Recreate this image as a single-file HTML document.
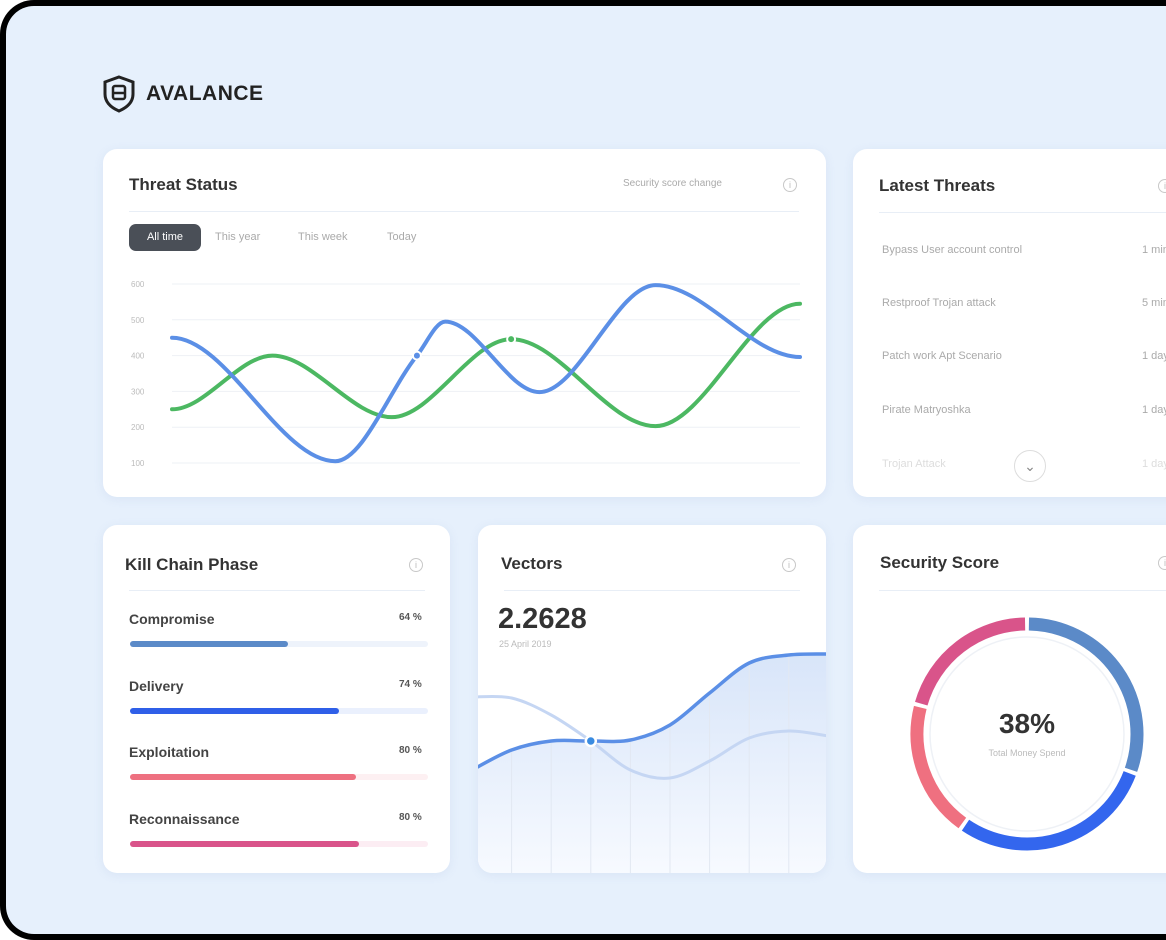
<!DOCTYPE html>
<html><head><meta charset="utf-8"><style>
*{box-sizing:border-box;margin:0;padding:0}
body{width:1166px;height:940px;overflow:hidden;background:#fff;font-family:"Liberation Sans",sans-serif;position:relative}
.frame{position:absolute;left:0;top:0;width:1200px;height:940px;background:#000;border-radius:34px}
.screen{position:absolute;left:6px;top:6px;width:1200px;height:928px;background:#e6f0fc;border-radius:28px}
.card{position:absolute;background:#fff;border-radius:14px;box-shadow:0 2px 10px rgba(120,150,200,.12)}
.title{position:absolute;font-weight:bold;font-size:17px;color:#333;}
.hr{position:absolute;height:1px;background:#e8eef6}
.info{position:absolute;width:14px;height:14px;border:1px solid #c8c8c8;border-radius:50%;font-size:9px;color:#bbb;text-align:center;line-height:12px}
.muted{position:absolute;font-size:11px;color:#aaa}
.lbl{position:absolute;font-size:14px;font-weight:bold;color:#444}
.pct{position:absolute;font-size:10px;color:#555;font-weight:bold}
.track{position:absolute;height:6px;border-radius:3px}
.fill{position:absolute;left:0;top:0;height:6px;border-radius:3px}
</style></head><body>
<div class="frame"></div>
<div class="screen"></div>

<div style="position:absolute;left:102px;top:76px;height:36px;display:flex;align-items:center">
<svg width="34" height="38" viewBox="0 0 34 38"><path d="M17 2 L31 7 L31 19 C31 28 24 33 17 36 C10 33 3 28 3 19 L3 7 Z" fill="none" stroke="#222" stroke-width="3"/><rect x="11" y="11" width="12" height="13" rx="2" fill="none" stroke="#222" stroke-width="2.5"/><line x1="11" y1="18" x2="23" y2="18" stroke="#222" stroke-width="2.5"/></svg>
<span style="font-size:21px;font-weight:bold;color:#222;margin-left:10px;letter-spacing:.5px">AVALANCE</span>
</div>

<!-- Threat Status -->
<div class="card" style="left:103px;top:149px;width:723px;height:348px">
<div class="title" style="left:26px;top:26px">Threat Status</div>
<div class="muted" style="left:520px;top:29px;font-size:10px">Security score change</div>
<div class="info" style="left:680px;top:29px">i</div>
<div class="hr" style="left:26px;top:62px;width:670px"></div>
<div style="position:absolute;left:26px;top:75px;width:72px;height:27px;background:#4a4f57;border-radius:7px;color:#fff;font-size:11px;text-align:center;line-height:27px">All time</div>
<div class="muted" style="left:112px;top:82px">This year</div>
<div class="muted" style="left:195px;top:82px">This week</div>
<div class="muted" style="left:284px;top:82px">Today</div>
</div>
<svg id="threat" width="1166" height="940" style="position:absolute;left:0;top:0"></svg>

<!-- Latest Threats -->
<div class="card" style="left:853px;top:149px;width:340px;height:348px">
<div class="title" style="left:26px;top:27px">Latest Threats</div>
<div class="info" style="left:305px;top:30px">i</div>
<div class="hr" style="left:26px;top:63px;width:320px"></div>
<div class="muted" style="left:29px;top:95px">Bypass User account control</div>
<div class="muted" style="left:289px;top:95px">1 min</div>
<div class="muted" style="left:29px;top:148px">Restproof Trojan attack</div>
<div class="muted" style="left:289px;top:148px">5 min</div>
<div class="muted" style="left:29px;top:201px">Patch work Apt Scenario</div>
<div class="muted" style="left:289px;top:201px">1 day</div>
<div class="muted" style="left:29px;top:255px">Pirate Matryoshka</div>
<div class="muted" style="left:289px;top:255px">1 day</div>
<div class="muted" style="left:29px;top:309px;color:#ddd">Trojan Attack</div>
<div class="muted" style="left:289px;top:309px;color:#ddd">1 day</div>
<div style="position:absolute;left:161px;top:301px;width:32px;height:32px;border:1px solid #ddd;border-radius:50%;background:#fff;text-align:center;line-height:30px;color:#888;font-size:14px">&#8964;</div>
</div>

<!-- Kill Chain -->
<div class="card" style="left:103px;top:525px;width:347px;height:348px">
<div class="title" style="left:22px;top:30px">Kill Chain Phase</div>
<div class="info" style="left:306px;top:33px">i</div>
<div class="hr" style="left:26px;top:65px;width:296px"></div>
<div id="bars"></div>
</div>

<!-- Vectors -->
<div class="card" style="left:478px;top:525px;width:348px;height:348px;overflow:hidden">
<div class="title" style="left:23px;top:29px">Vectors</div>
<div class="info" style="left:304px;top:33px">i</div>
<div class="hr" style="left:26px;top:65px;width:296px"></div>
<div style="position:absolute;left:20px;top:78px;font-size:29px;font-weight:bold;color:#333">2.2628</div>
<div class="muted" style="left:21px;top:114px;font-size:9px;color:#bbb">25 April 2019</div>
<svg id="vec" width="348" height="348" style="position:absolute;left:0;top:0"></svg>
</div>

<!-- Security Score -->
<div class="card" style="left:853px;top:525px;width:340px;height:348px">
<div class="title" style="left:27px;top:28px">Security Score</div>
<div class="info" style="left:305px;top:31px">i</div>
<div class="hr" style="left:26px;top:65px;width:320px"></div>
<div style="position:absolute;left:124px;top:183px;width:100px;text-align:center;font-size:28px;font-weight:bold;color:#333">38%</div>
<div style="position:absolute;left:104px;top:223px;width:140px;text-align:center;font-size:9px;color:#bbb">Total Money Spend</div>
</div>
<svg id="donut" width="1166" height="940" style="position:absolute;left:0;top:0;pointer-events:none"></svg>

<script>
// Threat status data
const threatTicks = [100,200,300,400,500,600];
const blueX = [0,26,39,43.5,58.5,77,100];
const blueY = [450,105,400,495,298,597,396];
const greenX = [0,16,35,54,77,100];
const greenY = [250,400,228,446,203,545];
// Kill chain data
const phases = ["Compromise","Delivery","Exploitation","Reconnaissance"];
const phaseLabels = ["64 %","74 %","80 %","80 %"];
const phaseFill = [53,70,76,77];
// Vectors data
const vecDark = [103,123,132,132,133,148,180,210,218,219];
const vecLight = [176,175,158,132,103,95,112,135,142,137];
// Donut data (degrees of each segment)
const donutSegs = [110,105,70,75];

const NS="http://www.w3.org/2000/svg";
function mk(t,a,p){const e=document.createElementNS(NS,t);for(const k in a)e.setAttribute(k,a[k]);p.appendChild(e);return e;}
function monotone(pts){
  const n=pts.length,d=[],m=[];
  for(let i=0;i<n-1;i++)d.push((pts[i+1][1]-pts[i][1])/(pts[i+1][0]-pts[i][0]));
  for(let i=0;i<n;i++){
    if(i==0)m.push(0);else if(i==n-1)m.push(0);
    else m.push(d[i-1]*d[i]<=0?0:(d[i-1]+d[i])/2);
  }
  let s=`M${pts[0][0]},${pts[0][1]}`;
  for(let i=0;i<n-1;i++){const h=pts[i+1][0]-pts[i][0];
    s+=` C${pts[i][0]+h/3},${pts[i][1]+m[i]*h/3} ${pts[i+1][0]-h/3},${pts[i+1][1]-m[i+1]*h/3} ${pts[i+1][0]},${pts[i+1][1]}`;}
  return s;
}
// Threat chart
(function(){
  const svg=document.getElementById('threat');
  const x=v=>172+v*6.28, y=v=>463-(v-100)*0.358;
  threatTicks.forEach(t=>{
    const l=mk('line',{x1:172,x2:800,y1:y(t),y2:y(t),stroke:'#eef1f5','stroke-width':1},svg);
    
    const tx=mk('text',{x:131,y:y(t)+3,'font-size':8,fill:'#bbb','font-family':'Liberation Sans'},svg);
    tx.textContent=t;
  });
  const gp=mk('path',{d:monotone(greenX.map((v,i)=>[x(v),y(greenY[i])])),fill:'none',stroke:'#4cb862','stroke-width':4,'stroke-linecap':'round'},svg);
  
  const bp=mk('path',{d:monotone(blueX.map((v,i)=>[x(v),y(blueY[i])])),fill:'none',stroke:'#5b8fe6','stroke-width':4,'stroke-linecap':'round'},svg);
  
  const c1=mk('circle',{cx:x(blueX[2]),cy:y(blueY[2]),r:4,fill:'#5b8fe6',stroke:'#fff','stroke-width':2},svg);
  
  const c2=mk('circle',{cx:x(greenX[3]),cy:y(greenY[3]),r:4,fill:'#4cb862',stroke:'#fff','stroke-width':2},svg);
  
})();
// Bars
(function(){
  const box=document.getElementById('bars');
  const cols=["#5b8ac8","#2f5fe8","#ee7080","#d9548a"],tr=["#eef3fb","#eaf0fd","#fdf0f2","#fcedf3"];
  phases.forEach((p,i)=>{
    const top=86+i*66.5;
    const l=document.createElement('div');l.className='lbl';l.style.left='26px';l.style.top=top+'px';l.textContent=p;
    box.appendChild(l);
    const pc=document.createElement('div');pc.className='pct';pc.style.left='296px';pc.style.top=(top+1)+'px';pc.textContent=phaseLabels[i];
    box.appendChild(pc);
    const t=document.createElement('div');t.className='track';t.style.left='27px';t.style.top=(top+30)+'px';t.style.width='298px';t.style.background=tr[i];
    box.appendChild(t);
    const f=document.createElement('div');f.className='fill';f.style.width=(298*phaseFill[i]/100)+'px';f.style.background=cols[i];
    t.appendChild(f);
  });
})();
// Vectors
(function(){
  const svg=document.getElementById('vec');
  const x=i=>-6+i*39.6, y=v=>348-v;
  const defs=mk('defs',{},svg);
  const g=mk('linearGradient',{id:'vg',x1:0,y1:0,x2:0,y2:1},defs);
  mk('stop',{offset:0,'stop-color':'#d8e5f9'},g);mk('stop',{offset:1,'stop-color':'#f7faff'},g);
  const dp=vecDark.map((v,i)=>[x(i),y(v)]);
  const d=monotoneCR(dp);
  const area=mk('path',{d:d+` L${x(vecDark.length-1)},348 L${x(0)},348 Z`,fill:'url(#vg)'},svg);
  
  for(let i=1;i<vecDark.length-1;i++){
    const l=mk('line',{x1:x(i),x2:x(i),y1:y(vecDark[i]),y2:348,stroke:'#e2e8f2','stroke-width':1},svg);
    
  }
  const lp=mk('path',{d:monotoneCR(vecLight.map((v,i)=>[x(i),y(v)])),fill:'none',stroke:'#c5d6f3','stroke-width':3},svg);
  
  const p=mk('path',{d:d,fill:'none',stroke:'#5b8fe6','stroke-width':3.5},svg);
  
  const c=mk('circle',{cx:x(3),cy:y(vecDark[3]),r:5,fill:'#3a8be0',stroke:'#fff','stroke-width':2.5},svg);
  
  function monotoneCR(pts){let s=`M${pts[0][0]},${pts[0][1]}`;
    for(let i=0;i<pts.length-1;i++){const p0=pts[Math.max(0,i-1)],p1=pts[i],p2=pts[i+1],p3=pts[Math.min(pts.length-1,i+2)];
      s+=` C${p1[0]+(p2[0]-p0[0])/6},${p1[1]+(p2[1]-p0[1])/6} ${p2[0]-(p3[0]-p1[0])/6},${p2[1]-(p3[1]-p1[1])/6} ${p2[0]},${p2[1]}`;}
    return s;}
})();
// Donut
(function(){
  const svg=document.getElementById('donut');
  const cx=1027,cy=734,r=110;
  const ring=mk('circle',{cx:cx,cy:cy,r:97,fill:'none',stroke:'#eef1f6','stroke-width':1.5},svg);
  
  const cols=["#5b8ac8","#3366ee","#ef7080","#d9548a"];
  let a=0;
  donutSegs.forEach((s,i)=>{
    const a0=(a+1)*Math.PI/180,a1=(a+s-1)*Math.PI/180;a+=s;
    const x0=cx+r*Math.sin(a0),y0=cy-r*Math.cos(a0),x1=cx+r*Math.sin(a1),y1=cy-r*Math.cos(a1);
    const p=mk('path',{d:`M${x0},${y0} A${r},${r} 0 ${s>180?1:0} 1 ${x1},${y1}`,fill:'none',stroke:cols[i],'stroke-width':13},svg);
    
  });
})();
</script>
</body></html>
